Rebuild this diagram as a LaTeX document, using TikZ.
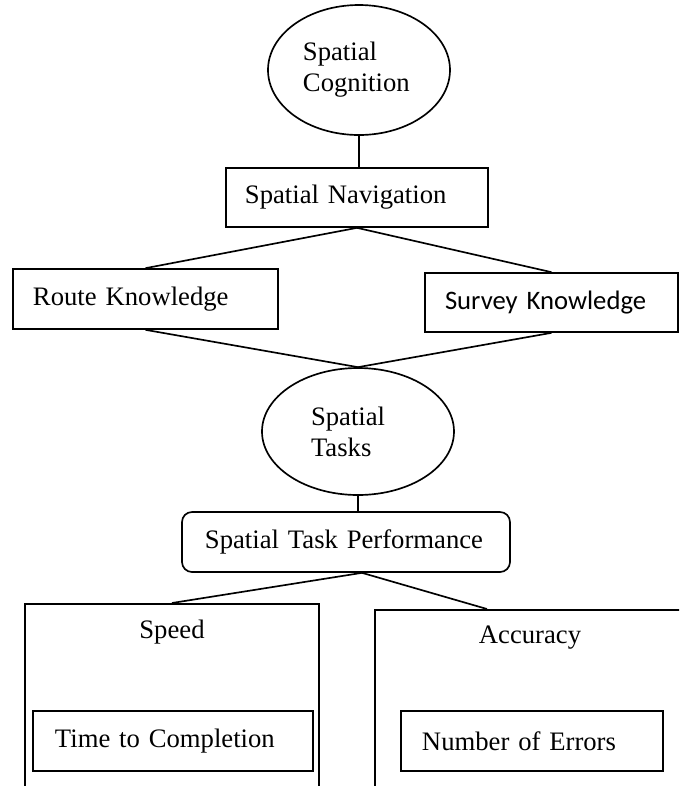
\documentclass[tikz,border=0pt]{standalone}
\usepackage{fontspec}
\setmainfont{Liberation Serif}
\newfontfamily\calibrifont{Carlito}
\usetikzlibrary{shapes.geometric}
\usetikzlibrary{positioning}

\begin{document}
\begin{tikzpicture}
			[
				x = 0.45pt, y = -0.45pt,
				every node/.style = {font = \fontsize{12}{14}\selectfont},
				myblock/.style = {draw, rectangle, line width = 0.75pt, minimum height = 27pt, inner ysep = 0pt, align = left},
				myellipse/.style = {draw, ellipse, line width = 0.75pt, inner sep = 0pt, align = left},
				myframe/.style = {draw, rectangle, line width = 0.75pt, anchor = north, minimum height = 90pt},
				myline/.style = {line width = 0.75pt}
			]
			%
			\useasboundingbox (0,0) rectangle (679,786);
			\clip (0,0) rectangle (679,786);
			%
			\node (cognition) [myellipse, minimum width = 81.9pt, minimum height = 58.5pt, text width = 50.4pt] at (359,70) {Spatial\\Cognition};
			%
			\node (nav) [myblock, minimum height = 26.55pt, text width = 100.8pt, inner xsep = 8.55pt] at (357,197.5) {Spatial Navigation};
			\draw [myline] (cognition.south) -- (cognition.south |- nav.north);
			%
			\node (route) [myblock, text width = 101.25pt, inner xsep = 9pt] at (145.5,299) {Route Knowledge};
			\node (survey) [myblock, minimum height = 26.55pt, text width = 95.85pt, inner xsep = 9pt] at (551.5,302.5) {\calibrifont Survey Knowledge};
			\draw [myline] (nav.south) -- (route.north);
			\draw [myline] (nav.south) -- (survey.north);
			%
			\node (tasks) [myellipse, minimum width = 86.4pt, minimum height = 57.15pt, text width = 42.3pt] at (358,431.5) {Spatial\\Tasks};
			\draw [myline] (route.south) -- (tasks.north);
			\draw [myline] (survey.south) -- (tasks.north);
			%
			\node (perf) [myblock, rounded corners = 4.5pt, text width = 126.9pt, inner xsep = 10.35pt] at (346,542) {Spatial Task Performance};
			\draw [myline] (tasks.south) -- (tasks.south |- perf.north);
			\coordinate (perfjoint) at ([xshift = 7.2pt]perf.south);
			%
			\node (speed) [myframe, minimum width = 132.3pt] at (172,603) {};
			\node (speedtext) [anchor = base] at (172,638) {Speed};
			\node (time) [myblock, text width = 106.2pt, inner xsep = 9.9pt] at (173,741) {Time to Completion};
			\draw [myline] (perfjoint) -- (speed.north);
			%
			\node (accuracy) [myframe, minimum width = 139.5pt] at (530,609) {};
			\node (accuracytext) [anchor = base] at (530,643) {Accuracy};
			\node (errors) [myblock, text width = 99pt, inner xsep = 9.45pt] at (532,741) {Number of Errors};
			\draw [myline] (perfjoint) -- ([xshift = -19.35pt]accuracy.north);
			%
		\end{tikzpicture}
\end{document}
